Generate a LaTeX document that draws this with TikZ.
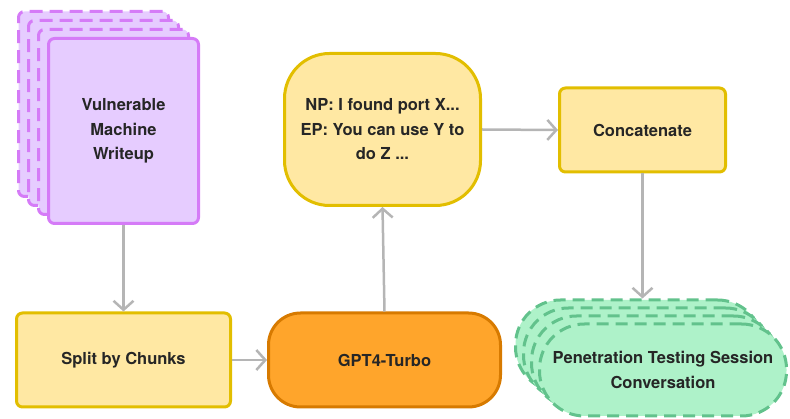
\documentclass[tikz,border=0pt]{standalone}
\usepackage{fontspec}
\setmainfont{TeX Gyre Heros}
\usetikzlibrary{arrows.meta}

\definecolor{purplefill}{HTML}{E6CCFF}
\definecolor{purpleline}{HTML}{D57BF7}
\definecolor{yellowfill}{HTML}{FFE8A3}
\definecolor{yellowline}{HTML}{E2BE00}
\definecolor{orangefill}{HTML}{FFA52B}
\definecolor{orangeline}{HTML}{D77A00}
\definecolor{greenfill}{HTML}{AEF2C9}
\definecolor{greenline}{HTML}{62C28C}
\definecolor{arrowgray}{HTML}{B5B5B5}
\definecolor{textdark}{HTML}{262626}

\tikzset{
  box/.style={draw, line width=3pt, align=center, text=textdark,
    font=\bfseries\fontsize{16.5}{24.5}\selectfont, inner sep=0pt},
  docbox/.style={box, fill=purplefill, draw=purpleline, rounded corners=6pt,
    minimum width=150pt, minimum height=185pt},
  stepbox/.style={box, fill=yellowfill, draw=yellowline, rounded corners=6pt},
  llmbox/.style={box, fill=orangefill, draw=orangeline, rounded corners=32pt,
    minimum width=232pt, minimum height=94pt},
  chatbox/.style={box, fill=greenfill, draw=greenline, rounded corners=45pt,
    dash pattern=on 12pt off 7pt, minimum width=247pt, minimum height=92pt},
  flow/.style={draw=arrowgray, line width=2.5pt,
    -{Straight Barb[length=9pt,width=20pt,line width=2.5pt]}}
}

\begin{document}
\begin{tikzpicture}[x=1pt, y=-1pt]
  \useasboundingbox (0,0) rectangle (790,419);

  % stacked writeups
  \foreach \k in {3,2,1}
    \node[docbox, dash pattern=on 13pt off 7pt] (doc\k) at (123.5-10*\k, 131-9*\k) {};
  \node[docbox] (writeup) at (123.5, 131) {Vulnerable\\Machine\\Writeup};

  \node[stepbox, minimum width=214pt, minimum height=94pt] (split) at (123.5, 360) {Split by Chunks};
  \node[llmbox] (gpt) at (384.5, 360) {GPT4-Turbo};
  \node[stepbox, rounded corners=45pt, minimum width=196pt, minimum height=152pt] (answer)
    at (382.5, 129.5) {NP: I found port X...\\EP: You can use Y to\\do Z ...};
  \node[stepbox, minimum width=166pt, minimum height=84pt] (concat) at (642.5, 130) {Concatenate};

  % stacked conversations
  \foreach \k in {3,2,1}
    \node[chatbox] (chat\k) at (663-8*\k, 370-8*\k) {};
  \node[chatbox] (session) at (663, 370) {Penetration Testing Session\\Conversation};

  \draw[flow] (writeup.south) -- (split.north);
  \draw[flow] (split.east) -- (gpt.west);
  \draw[flow] (gpt.north) -- (answer.south);
  \draw[flow] (answer.east) -- (concat.west);
  \draw[flow] (concat.south) -- (concat.south |- chat3.north);
\end{tikzpicture}
\end{document}
